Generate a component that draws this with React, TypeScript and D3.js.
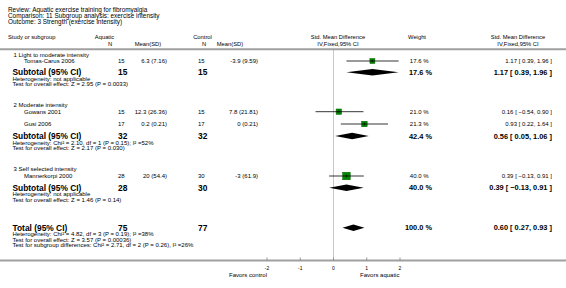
import React from "react";
import * as d3 from "d3";

// ---------- data ----------
const titleLines = [
  "Review:  Aquatic exercise training for fibromyalgia",
  "Comparison:  11 Subgroup analysis: exercise intensity",
  "Outcome:  3 Strength (exercise intensity)",
];

const groupNames = ["1 Light to moderate intensity", "2 Moderate intensity", "3 Self selected intensity"];

const studyNames = ["Tomas-Carus 2006", "Gowans 2001", "Gusi 2006", "Mannerkorpi 2000"];
const aquaticN = [15, 15, 17, 28];
const aquaticMeanSD = ["6.3 (7.16)", "12.3 (26.36)", "0.2 (0.21)", "20 (54.4)"];
const controlN = [15, 15, 17, 30];
const controlMeanSD = ["-3.9 (9.59)", "7.8 (21.81)", "0 (0.21)", "-3 (61.9)"];
const studySMD = [1.17, 0.16, 0.93, 0.39];
const studyLow = [0.39, -0.54, 0.22, -0.13];
const studyHigh = [1.96, 0.9, 1.64, 0.91];
const studyWeight = [17.6, 21.0, 21.3, 40.0];

const subAquaticN = [15, 32, 28];
const subControlN = [15, 32, 30];
const subSMD = [1.17, 0.56, 0.39];
const subLow = [0.39, 0.05, -0.13];
const subHigh = [1.96, 1.06, 0.91];
const subWeight = [17.6, 42.4, 40.0];
const subHeterogeneity = [
  "Heterogeneity: not applicable",
  "Heterogeneity: Chi\u00b2 = 2.10, df = 1 (P = 0.15); I\u00b2 =52%",
  "Heterogeneity: not applicable",
];
const subOverall = [
  "Test for overall effect: Z = 2.95 (P = 0.0033)",
  "Test for overall effect: Z = 2.17 (P = 0.030)",
  "Test for overall effect: Z = 1.46 (P = 0.14)",
];

const totalAquaticN = 75;
const totalControlN = 77;
const totalSMD = 0.6;
const totalLow = 0.27;
const totalHigh = 0.93;
const totalWeight = 100.0;
const totalNotes = [
  "Heterogeneity: Chi\u00b2 = 4.82, df = 3 (P = 0.19); I\u00b2 =38%",
  "Test for overall effect: Z = 3.57 (P = 0.00036)",
  "Test for subgroup differences: Chi\u00b2 = 2.71, df = 2 (P = 0.26), I\u00b2 =26%",
];

const axisTicks = [-2, -1, 0, 1, 2];
const favorsLeft = "Favors control";
const favorsRight = "Favors aquatic";

// ---------- layout ----------
const W = 566;
const H = 288;
const FONT = "'Liberation Sans', Arial, Helvetica, sans-serif";
const FS = 6;
const FS_TITLE = 6.4;
const FS_HEAD = 5.8;
const FS_BOLD = 8.4;
const FS_BOLD_R = 7.4;

const x = d3.scaleLinear().domain([-2, 2]).range([267, 400]);
const boxSize = d3.scaleSqrt().domain([0, 40]).range([0, 7.5]);

const titleY = [10, 15.8, 21.5];
const head1Y = 37.3;
const head2Y = 44;
const topRuleY = 49.3;
const bottomRuleY = 260.5;

const groupLabelY = [54.5, 105, 169];
const studyY = [61, 111.7, 124, 176];
const subtotalY = [72.3, 136, 187.7];
const totalY = 227.7;
const noteGap1 = 6.4;
const noteGap = 5.6;

const fmt2 = d3.format(".2f");
const fmtW = (w: number) => d3.format(".1f")(w) + " %";
const ciText = (e: number, l: number, h: number) => `${fmt2(e)} [ ${fmt2(l)}, ${fmt2(h)} ]`;

const colTitle = 8;
const colGroup = 13.5;
const colSub = 12.5;
const colStudyIndent = 24;
const colAqN = 118;
const colAqMean = 167;
const colCtN = 198;
const colCtMean = 258;
const colPlotHead = 338;
const colWeight = 428.5;
const colWeightBold = 432;
const colWeightHead = 417;
const colCI = 552;
const colCIHead = 518;

function T(props: any) {
  const { x, y, children, anchor = "start", bold = false, size = FS, fill = "#000" } = props;
  return (
    <text
      x={x}
      y={y}
      dy="0.35em"
      textAnchor={anchor}
      fontFamily={FONT}
      fontSize={size}
      fontWeight={bold ? "bold" : "normal"}
      fill={fill}
    >
      {children}
    </text>
  );
}

function Diamond({ e, l, h, y }: { e: number; l: number; h: number; y: number }) {
  const hh = 3.2;
  const d = `M${x(l)},${y} L${x(e)},${y - hh} L${x(h)},${y} L${x(e)},${y + hh} Z`;
  return <path d={d} fill="#000" />;
}

export default function App() {
  return (
    <div style={{ position: "fixed", left: 0, top: 0 }}>
      <svg width={W} height={H} style={{ display: "block", background: "#fff" }}>
        {titleLines.map((t, i) => (
          <T key={i} x={colTitle} y={titleY[i]} size={FS_TITLE}>{t}</T>
        ))}
        {/* headers */}
        <T x={colTitle} y={head1Y} size={FS_HEAD}>Study or subgroup</T>
        <T x={104.5} y={head1Y} anchor="middle" size={FS_HEAD}>Aquatic</T>
        <T x={110} y={head2Y} anchor="middle" size={FS_HEAD}>N</T>
        <T x={148} y={head2Y} anchor="middle" size={FS_HEAD}>Mean(SD)</T>
        <T x={202.5} y={head1Y} anchor="middle" size={FS_HEAD}>Control</T>
        <T x={204} y={head2Y} anchor="middle" size={FS_HEAD}>N</T>
        <T x={230} y={head2Y} anchor="middle" size={FS_HEAD}>Mean(SD)</T>
        <T x={colPlotHead} y={head1Y} anchor="middle" size={FS_HEAD}>Std. Mean Difference</T>
        <T x={colPlotHead} y={head2Y} anchor="middle" size={FS_HEAD}>IV,Fixed,95% CI</T>
        <T x={colWeightHead} y={head1Y} anchor="middle" size={FS_HEAD}>Weight</T>
        <T x={colCIHead} y={head1Y} anchor="middle" size={FS_HEAD}>Std. Mean Difference</T>
        <T x={colCIHead} y={head2Y} anchor="middle" size={FS_HEAD}>IV,Fixed,95% CI</T>

        {/* zero line */}
        <line x1={x(0)} x2={x(0)} y1={topRuleY} y2={bottomRuleY} stroke="#c8c8c8" strokeWidth={1} />

        {/* groups */}
        {groupNames.map((g, gi) => (
          <g key={g}>
            <T x={colGroup} y={groupLabelY[gi]}>{g}</T>
            <T x={colSub} y={subtotalY[gi]} bold size={FS_BOLD}>Subtotal (95% CI)</T>
            <T x={colAqN} y={subtotalY[gi]} bold size={FS_BOLD}>{subAquaticN[gi]}</T>
            <T x={colCtN} y={subtotalY[gi]} bold size={FS_BOLD}>{subControlN[gi]}</T>
            <T x={colSub} y={subtotalY[gi] + noteGap1}>{subHeterogeneity[gi]}</T>
            <T x={colSub} y={subtotalY[gi] + noteGap1 + noteGap}>{subOverall[gi]}</T>
            <Diamond e={subSMD[gi]} l={subLow[gi]} h={subHigh[gi]} y={subtotalY[gi]} />
            <T x={colWeightBold} y={subtotalY[gi]} anchor="end" bold size={FS_BOLD_R}>{fmtW(subWeight[gi])}</T>
            <T x={colCI} y={subtotalY[gi]} anchor="end" bold size={FS_BOLD_R}>{ciText(subSMD[gi], subLow[gi], subHigh[gi])}</T>
          </g>
        ))}

        {/* studies */}
        {studyNames.map((s, i) => {
          const y = studyY[i];
          const b = boxSize(studyWeight[i]);
          return (
            <g key={s}>
              <T x={colStudyIndent} y={y}>{s}</T>
              <T x={colAqN} y={y}>{aquaticN[i]}</T>
              <T x={colAqMean} y={y} anchor="end">{aquaticMeanSD[i]}</T>
              <T x={colCtN} y={y}>{controlN[i]}</T>
              <T x={colCtMean} y={y} anchor="end">{controlMeanSD[i]}</T>
              <rect x={x(studySMD[i]) - b / 2} y={y - b / 2} width={b} height={b} fill="#008a00" stroke="#006000" strokeWidth={0.5} />
              <line x1={x(studyLow[i])} x2={x(studyHigh[i])} y1={y} y2={y} stroke="#000" strokeWidth={0.8} />
              <line x1={x(studySMD[i])} x2={x(studySMD[i])} y1={y - 1.5} y2={y + 1.5} stroke="#000" strokeWidth={0.6} />
              <T x={colWeight} y={y} anchor="end">{fmtW(studyWeight[i])}</T>
              <T x={colCI} y={y} anchor="end">{ciText(studySMD[i], studyLow[i], studyHigh[i])}</T>
            </g>
          );
        })}

        {/* total */}
        <T x={colSub} y={totalY} bold size={FS_BOLD}>Total (95% CI)</T>
        <T x={colAqN} y={totalY} bold size={FS_BOLD}>{totalAquaticN}</T>
        <T x={colCtN} y={totalY} bold size={FS_BOLD}>{totalControlN}</T>
        {totalNotes.map((t, i) => (
          <T key={t} x={colSub} y={totalY + noteGap1 + i * noteGap}>{t}</T>
        ))}
        <Diamond e={totalSMD} l={totalLow} h={totalHigh} y={totalY} />
        <T x={colWeightBold} y={totalY} anchor="end" bold size={FS_BOLD_R}>{fmtW(totalWeight)}</T>
        <T x={colCI} y={totalY} anchor="end" bold size={FS_BOLD_R}>{ciText(totalSMD, totalLow, totalHigh)}</T>

        {/* rules */}
        <line x1={0} x2={W} y1={topRuleY} y2={topRuleY} stroke="#a0a0a0" strokeWidth={2} />
        <line x1={0} x2={W} y1={bottomRuleY} y2={bottomRuleY} stroke="#a0a0a0" strokeWidth={2} />

        {/* axis */}
        {axisTicks.map((t) => (
          <g key={t}>
            <line x1={x(t)} x2={x(t)} y1={bottomRuleY - 3} y2={bottomRuleY} stroke="#808080" strokeWidth={0.8} />
            <T x={x(t)} y={bottomRuleY + 8} anchor="middle" size={5}>{t}</T>
          </g>
        ))}
        <T x={x(-2)} y={bottomRuleY + 14.5} anchor="end">{favorsLeft}</T>
        <T x={x(0.8)} y={bottomRuleY + 14.5}>{favorsRight}</T>
      </svg>
    </div>
  );
}
